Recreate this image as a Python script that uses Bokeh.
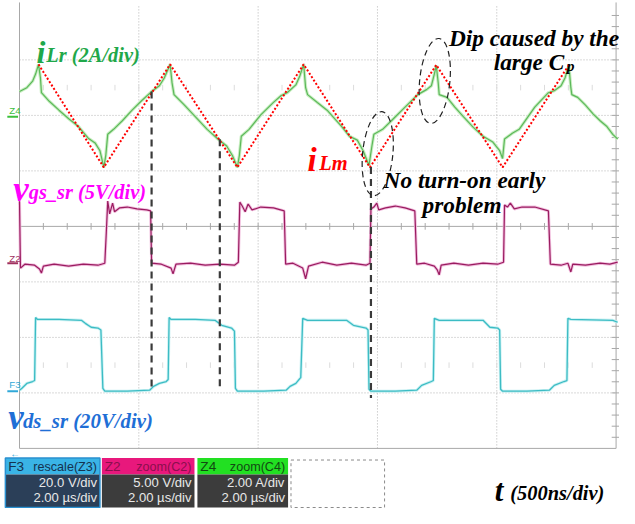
import numpy as np
from bokeh.plotting import figure
from bokeh.models import Range1d
from bokeh.core.properties import value
from bokeh.embed import file_html
from bokeh.resources import INLINE

# ---------------- data (time in ns, physical units) ----------------
ilr_t = [0, 30.6, 55.1, 67.4, 79.7, 87.8, 91.9, 124.6, 165.4, 206.3, 247.1, 288.0, 316.6, 337.0, 353.3,
         361.5, 369.7, 394.2, 431.0, 471.8, 512.7, 553.5, 586.2, 606.6, 631.1, 639.3, 647.5, 688.3,
         737.4, 786.4, 831.3, 868.1, 892.6, 913.0, 921.2, 929.4, 962.0, 1011.0, 1064.2, 1096.8, 1121.4,
         1158.1, 1174.5, 1190.8, 1199.0, 1207.2, 1248.0, 1288.9, 1350.2, 1382.8, 1415.5, 1440.0, 1464.5,
         1476.8, 1485.0, 1521.7, 1566.7, 1615.7, 1668.8, 1705.6, 1726.0, 1738.3, 1746.5, 1754.7, 1758.8,
         1791.5, 1824.2, 1860.9, 1901.8, 1942.6, 1983.5, 2012.1, 2024.3, 2032.5, 2065.2, 2093.8, 2159.2,
         2216.4, 2240.9, 2269.5, 2285.9, 2302.2, 2310.4, 2314.5, 2339.0, 2371.7, 2404.4, 2433.0, 2461.6,
         2486.1, 2506.5]
ilr_a = [0.84, 0.98, 1.22, 1.47, 1.82, 1.33, 0.80, 0.49, 0.17, -0.14, -0.42, -0.84, -1.01, -1.29, -1.89,
         -1.47, -0.70, -0.52, -0.21, 0.17, 0.52, 0.84, 1.05, 1.33, 1.82, 1.15, 0.73, 0.38,
         -0.07, -0.52, -0.87, -1.12, -1.47, -1.89, -1.47, -0.77, -0.52, 0.00, 0.45, 0.70, 0.80,
         1.08, 1.40, 1.82, 0.98, 0.73, 0.45, 0.17, -0.42, -0.77, -0.91, -1.29, -1.82,
         -1.12, -0.70, -0.52, -0.14, 0.28, 0.73, 0.91, 1.05, 1.47, 1.78, 1.15, 0.73,
         0.63, 0.28, -0.07, -0.45, -0.77, -0.98, -1.29, -1.57, -0.87, -0.66, -0.52, 0.28,
         0.80, 0.87, 1.05, 1.33, 1.78, 0.98, 0.73, 0.63, 0.35, 0.03, -0.21, -0.42,
         -0.70, -0.87]

ilm_t = [79.7, 353.3, 631.1, 913.0, 1190.8, 1468.6, 1746.5, 2024.3, 2302.2]
ilm_a = [1.82, -1.89, 1.82, -1.89, 1.82, -1.89, 1.80, -1.89, 1.80]

vgs_t = [0, 4, 22.5, 63.3, 83.7, 91.9, 100.0, 145.0, 206.0, 267.5, 328.8, 357.4, 363.6, 369.7, 377.8,
         390.1, 398.3, 418.7, 451.4, 492.2, 533.1, 549.4, 553.5, 594.4, 635.2, 643.4, 655.6, 716.9,
         778.2, 839.4, 900.7, 917.1, 923.2, 933.4, 945.7, 958.0, 974.3, 1011.1, 1064.2, 1109.2, 1115.3,
         1145.9, 1186.8, 1199.0, 1211.2, 1268.4, 1329.7, 1391.0, 1452.3, 1468.6, 1472.7, 1485.0, 1497.2,
         1505.4, 1534.0, 1574.9, 1615.7, 1656.6, 1664.7, 1697.4, 1738.3, 1750.6, 1758.8, 1767.0, 1820.1,
         1881.4, 1942.6, 2003.9, 2028.4, 2032.5, 2044.7, 2057.0, 2073.4, 2106.0, 2159.2, 2216.4, 2224.6,
         2269.5, 2298.1, 2310.4, 2318.6, 2371.7, 2433.0, 2473.8, 2506.5]
vgs_v = [5.33, -0.70, -0.35, -0.44, -0.79, -1.14, -0.52, -0.35, -0.52, -0.35, -0.44, -0.26, 2.45, 5.33, 4.19,
         5.15, 4.37, 4.72, 4.80, 4.63, 4.54, 4.45, -0.26, -0.35, -0.70, -1.22, -0.35, -0.26,
         -0.44, -0.35, -0.44, -0.17, 5.24, 4.89, 4.37, 5.07, 4.54, 4.80, 4.72, 4.45, -0.35,
         -0.26, -0.70, -1.66, -0.52, -0.17, -0.44, -0.26, -0.44, -0.26, 4.63, 4.80, 5.15,
         4.54, 4.72, 4.89, 4.72, 4.45, -0.35, -0.26, -0.52, -0.87, -1.31, -0.44, -0.26,
         -0.44, -0.26, -0.35, -0.17, 4.98, 4.80, 5.15, 4.63, 4.80, 4.80, 4.45, -0.35,
         -0.44, -0.26, -1.05, -0.35, -0.44, -0.26, -0.35, -0.17]

vds_t = [0, 10.2, 30.6, 55.1, 63.3, 67.4, 75.6, 165.4, 259.4, 275.7, 300.2, 328.8, 341.1, 349.3, 357.4,
         451.4, 545.3, 561.7, 586.2, 614.8, 623.0, 627.0, 635.2, 737.4, 819.1, 847.7, 888.5, 900.7,
         904.8, 913.0, 1023.3, 1117.3, 1133.7, 1158.1, 1174.5, 1178.6, 1186.8, 1207.2, 1370.6, 1399.2,
         1452.3, 1460.5, 1464.5, 1472.7, 1574.9, 1664.7, 1685.2, 1726.0, 1734.2, 1738.3, 1758.8, 1942.6,
         1971.2, 2003.9, 2012.1, 2016.2, 2024.3, 2126.5, 2220.5, 2240.9, 2281.8, 2294.0, 2298.1, 2310.4,
         2486.1, 2506.5]
vds_v = [0, 0.70, 2.45, 3.14, 3.49, 26.2, 25.5, 25.5, 25.2, 24.1, 22.7, 22.4, 21.7, 0.70, -0.35,
         -0.35, 0, 1.40, 2.45, 3.14, 3.84, 26.2, 25.5, 25.5, 25.2, 23.4, 22.4, 21.3,
         0.70, -0.35, -0.35, 0, 1.40, 2.45, 4.19, 4.54, 25.9, 25.2, 25.2, 23.4,
         22.4, 21.7, 0.35, -0.35, -0.35, 0, 1.75, 3.14, 3.49, 25.9, 25.2, 25.2,
         22.7, 22.4, 21.7, 0.35, -0.35, -0.35, 0, 1.75, 3.14, 3.49, 25.9, 25.5,
         25.2, 24.5]

# dashed time markers (ns) with their vertical extent (divisions)
marker_t = [553.5, 839.4, 1472.7]
marker_top = [6.43, 5.57, 5.07]
marker_bot = [1.08, 1.03, 0.91]

# ---------------- layout helpers ----------------
RW, RH = 635, 524          # reference picture size
W, H = 619, 508            # figure size
SX, SY = W / RW, H / RH
X0, Y0 = 19.5, 462.0       # pixel of t=0 / div 0
PXD_X, PXD_Y = 122.4, 57.25
NS_PER_DIV = 500.0


def X(rx):
    return (rx - X0) / PXD_X * NS_PER_DIV


def Y(ry):
    return (Y0 - ry) / PXD_Y


def chan_range(zero_ry, per_div):
    return Range1d((zero_ry - RH) / PXD_Y * per_div, zero_ry / PXD_Y * per_div)


def fs(px):
    return "%.1fpx" % (px * SY)


p = figure(width=W, height=H, output_backend="svg", toolbar_location=None,
           x_range=Range1d(X(0), X(RW)), y_range=Range1d(Y(RH), Y(0)),
           x_axis_location=None, y_axis_location=None, min_border=0)
p.outline_line_color = None
p.grid.visible = False
p.background_fill_color = "white"
p.border_fill_color = "white"
p.extra_y_ranges = {"ilr": chan_range(118, 2.0), "vgs": chan_range(268, 5.0), "vds": chan_range(402, 20.0)}

# ---------------- graticule ----------------
GRID = "#b4b4b4"
vt = [500, 1000, 1500, 2000]
p.segment(x0=vt, y0=[0] * 4, x1=vt, y1=[8] * 4, line_color=GRID, line_dash="1 2", line_width=1)
hy = [1, 2, 3, 5, 6, 7]
p.segment(x0=[0] * 6, y0=hy, x1=[2500] * 6, y1=hy, line_color=GRID, line_dash="1 2", line_width=1)
p.segment(x0=[0, 2500], y0=[0, 0], x1=[0, 2500], y1=[Y(2), Y(2)], line_color="#a8a8a8", line_width=1)
p.segment(x0=[0, 0], y0=[0, 4], x1=[2500, 2500], y1=[0, 4], line_color="#a8a8a8", line_width=1)
tk = np.arange(100, 2500, 100)
p.segment(x0=tk, y0=4 - 0.06, x1=tk, y1=4 + 0.06, line_color="#a8a8a8", line_width=1)
for row in (6.5, 1.5):
    p.segment(x0=tk, y0=row - 0.05, x1=tk, y1=row + 0.05, line_color="#dcdcdc", line_width=1)
ty = np.arange(0.2, 8.0, 0.2)
p.segment(x0=X(627), y0=ty, x1=X(635), y1=ty, line_color="#a8a8a8", line_width=1)

# ---------------- traces ----------------
p.line(ilr_t, ilr_a, y_range_name="ilr", line_color="#c2ecba", line_width=3.2, line_alpha=0.9)
p.line(ilr_t, ilr_a, y_range_name="ilr", line_color="#5cb85a", line_width=1.2)
p.line(ilm_t, ilm_a, y_range_name="ilr", line_color="#ff0000", line_width=2, line_dash="2 2")

p.line(vgs_t, vgs_v, y_range_name="vgs", line_color="#efb8da", line_width=3.0, line_alpha=0.9)
p.line(vgs_t, vgs_v, y_range_name="vgs", line_color="#9a1c60", line_width=1.2)

p.line(vds_t, vds_v, y_range_name="vds", line_color="#c4f0f2", line_width=3.0, line_alpha=0.9)
p.line(vds_t, vds_v, y_range_name="vds", line_color="#3cbcc4", line_width=1.3)

# dashed markers and ellipses
p.segment(x0=marker_t, y0=marker_top, x1=marker_t, y1=marker_bot, line_color="#3a3a3a",
          line_width=2.2, line_dash="7 5")
p.ellipse(x=[X(387), X(445.5)], y=[Y(158), Y(83)], width=[31 * SX, 31 * SX], height=[87 * SY, 88 * SY],
          width_units="screen", height_units="screen", angle=-0.1,
          fill_color=None, line_color="#222222", line_width=1.2, line_dash="6 4")

# ---------------- labels ----------------
SERIF = value("Liberation Serif")


def label(rx, ry, txt, color, size, style="bold italic", font=SERIF, align="left", baseline="alphabetic"):
    p.text(x=[X(rx)], y=[Y(ry)], text=[txt], text_color=color, text_font=font,
           text_font_size=fs(size), text_font_style=style, text_align=align, text_baseline=baseline)


GREEN_T = "#1fa84a"
label(37, 53, "i", GREEN_T, 33)
label(47, 56, "Lr (2A/div)", GREEN_T, 21)
label(13, 195, "v", "#ff00ff", 36)
label(29, 198, "gs_sr (5V/div)", "#ff00ff", 21)
label(8, 430, "v", "#1f6fd6", 36)
label(23, 433, "ds_sr (20V/div)", "#1f6fd6", 21.5)
label(315, 165, "i", "#ff0000", 34)
label(327, 168, "Lm", "#ff0000", 21)
label(460, 39, "Dip caused by the", "black", 24)
label(506, 63, "large C", "black", 24)
label(581, 67, "p", "black", 16)
label(393, 185, "No turn-on early", "black", 24)
label(433, 211, "problem", "black", 24)
label(507, 505, "t", "black", 32)
label(523, 508, "(500ns/div)", "black", 21)

SANS = value("Liberation Sans")
# channel markers on the left edge
label(9, 113, "Z4", "#3cc03c", 10, style="normal", font=SANS, baseline="middle")
label(9, 266, "Z2", "#a0305f", 10, style="normal", font=SANS, baseline="middle")
label(9, 396, "F3", "#30a8d8", 10, style="normal", font=SANS, baseline="middle")
p.segment(x0=[X(7)] * 3, y0=[Y(120), Y(271), Y(403)], x1=[X(18)] * 3, y1=[Y(120), Y(271), Y(403)],
          line_color=["#3cc03c", "#a0305f", "#30a8d8"], line_width=2)
label(15, 467, "\u2190", "#30a8d8", 10, style="normal", font=SANS, align="center", baseline="middle")

# ---------------- info boxes ----------------
boxes = [
    (5, 102, "#3ab4e6", "#2b3f58", "#15324f", "F3", "rescale(Z3)", "20.0 V/div"),
    (104, 199, "#e8187c", "#3c3c3c", "#8a0f4c", "Z2", "zoom(C2)", "5.00 V/div"),
    (202, 295, "#22e022", "#3c3c3c", "#124a12", "Z4", "zoom(C4)", "2.00 A/div"),
]
for l, r, hc, bc, tc, a, b, c in boxes:
    p.quad(left=[X(l)], right=[X(r)], top=[Y(472)], bottom=[Y(489)], fill_color=hc, line_color=None)
    p.quad(left=[X(l)], right=[X(r)], top=[Y(489)], bottom=[Y(523)], fill_color=bc, line_color=None)
    label(l + 3, 481, a, tc, 14, style="normal", font=SANS, baseline="middle")
    label(r - 3, 481, b, tc, 13, style="normal", font=SANS, align="right", baseline="middle")
    label(r - 3, 497, c, "#e8e8e8", 13.5, style="normal", font=SANS, align="right", baseline="middle")
    label(r - 3, 513, "2.00 \u00b5s/div", "#e8e8e8", 13.5, style="normal", font=SANS, align="right",
          baseline="middle")
p.quad(left=[X(5)], right=[X(102)], top=[Y(472)], bottom=[Y(523)], fill_color=None,
       line_color="#2a90d0", line_width=1.5)
p.quad(left=[X(298)], right=[X(394)], top=[Y(474)], bottom=[Y(523)], fill_color=None,
       line_color="#8a8a8a", line_width=1, line_dash="3 3")

open("out.html", "w").write(file_html(p, INLINE))
